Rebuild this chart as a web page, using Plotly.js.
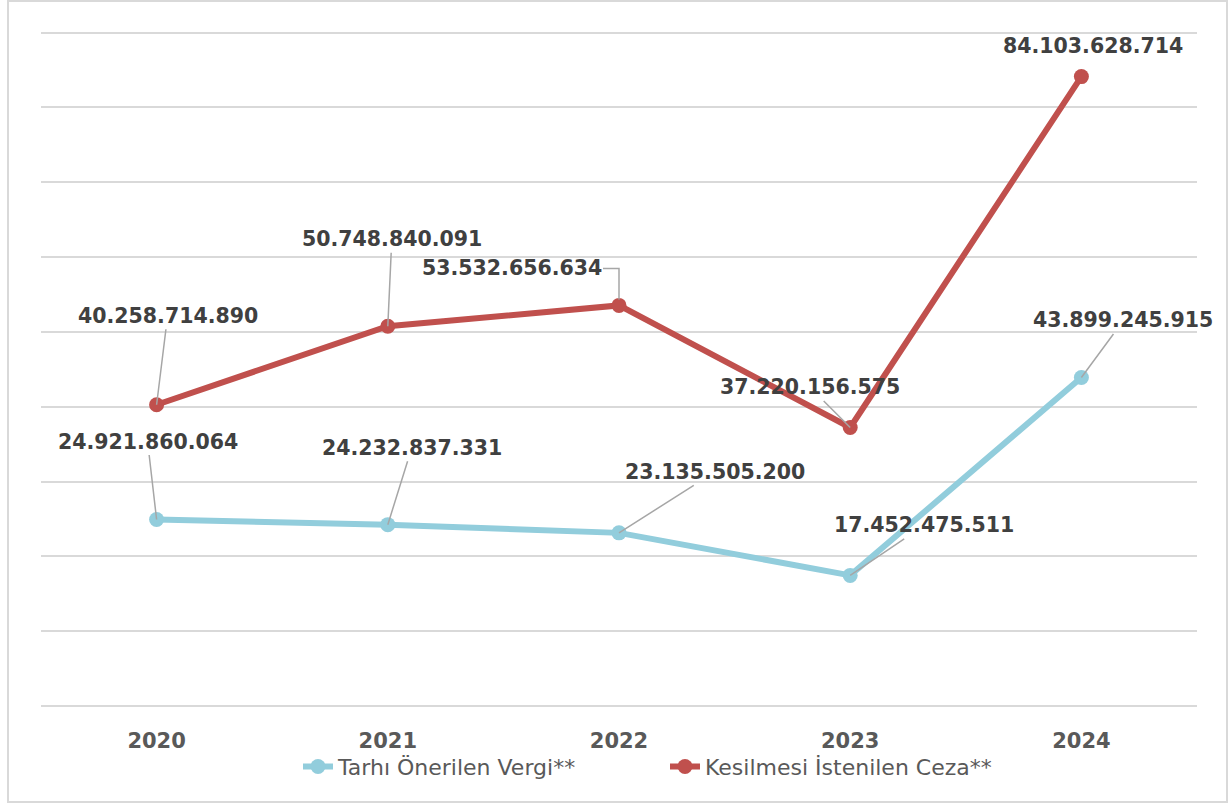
<!DOCTYPE html>
<html>
<head>
<meta charset="utf-8">
<script src="https://cdn.plot.ly/plotly-3.0.1.min.js"></script>
<style>
html,body{margin:0;padding:0;background:#fff;}
#chart{position:absolute;left:0;top:0;width:1231px;height:803px;}
#frame{position:absolute;left:7px;top:0px;width:1217px;height:799px;border:2px solid #d9d9d9;pointer-events:none;}
</style>
</head>
<body>
<div id="chart"></div>
<div id="frame"></div>
<script>
const years = ['2020','2021','2022','2023','2024'];
const vergi = [24921860064, 24232837331, 23135505200, 17452475511, 43899245915];
const ceza = [40258714890, 50748840091, 53532656634, 37220156575, 84103628714];
const seriesNames = ['Tarhı Önerilen Vergi**', 'Kesilmesi İstenilen Ceza**'];

function fmt(v){
  return String(v).replace(/\B(?=(\d{3})+(?!\d))/g, '.');
}

const blue = '#92cddc';
const red = '#c0504d';

const traces = [
  {x: years, y: vergi, name: seriesNames[0], type: 'scatter', mode: 'lines+markers',
   line: {color: blue, width: 6}, marker: {color: blue, size: 15}},
  {x: years, y: ceza, name: seriesNames[1], type: 'scatter', mode: 'lines+markers',
   line: {color: red, width: 6}, marker: {color: red, size: 15}}
];

const vergiOff = [[-9,-78],[24,-77],[96,-61],[74,-50],[42,-57]];
const cezaOff = [[11,-89],[4,-87],[-107,-37],[-40,-40],[12,-31]];
const cezaArrow = [true,true,false,true,false];

const annFont = {family: 'DejaVu Sans, Verdana, sans-serif', size: 20.5, color: '#404040'};
const annotations = [];
years.forEach((yr,i)=>{
  annotations.push({x: i, y: vergi[i], xref:'x', yref:'y', text: '<b>'+fmt(vergi[i])+'</b>',
    showarrow: true, arrowhead: 0, arrowwidth: 1.5, arrowcolor: '#a6a6a6',
    ax: vergiOff[i][0], ay: vergiOff[i][1], font: annFont});
  annotations.push({x: i, y: ceza[i], xref:'x', yref:'y', text: '<b>'+fmt(ceza[i])+'</b>',
    showarrow: true, arrowhead: 0, arrowwidth: 1.5,
    arrowcolor: cezaArrow[i] ? '#a6a6a6' : 'rgba(255,255,255,0)',
    ax: cezaOff[i][0], ay: cezaOff[i][1], font: annFont});
});

// elbow leader line for the 2022 penalty label
const shapes = [{
  type: 'path', xref: 'x', yref: 'y', xsizemode: 'pixel', ysizemode: 'pixel',
  xanchor: 2, yanchor: ceza[2],
  path: 'M 0 6 L 0 37 L -16 37',
  line: {color: '#a6a6a6', width: 1.5}
}];

const layout = {
  width: 1231, height: 803,
  margin: {l: 41, r: 34, t: 31, b: 97},
  paper_bgcolor: '#fff', plot_bgcolor: '#fff',
  showlegend: true,
  legend: {orientation: 'h', x: (298-41)/1156, xanchor: 'left', y: -0.09, yanchor: 'middle',
    bgcolor: 'rgba(0,0,0,0)',
    font: {family: 'DejaVu Sans, Verdana, sans-serif', size: 22, color: '#595959'},
    entrywidth: 322, entrywidthmode: 'pixels'},
  xaxis: {type: 'category', range: [-0.5, 4.5], showgrid: false, zeroline: false,
    showline: false, ticks: '', ticklabelstandoff: 20,
    tickfont: {family: 'DejaVu Sans, Verdana, sans-serif', size: 21, color: '#595959', weight: 'bold'}},
  yaxis: {range: [0, 90.2e9], dtick: 10e9, tick0: 0, showticklabels: false,
    showgrid: true, gridcolor: '#d9d9d9', gridwidth: 1.5,
    zeroline: true, zerolinecolor: '#d9d9d9', zerolinewidth: 1.5, showline: false},
  annotations: annotations,
  shapes: shapes
};

Plotly.newPlot('chart', traces, layout, {displayModeBar: false});
</script>
</body>
</html>
